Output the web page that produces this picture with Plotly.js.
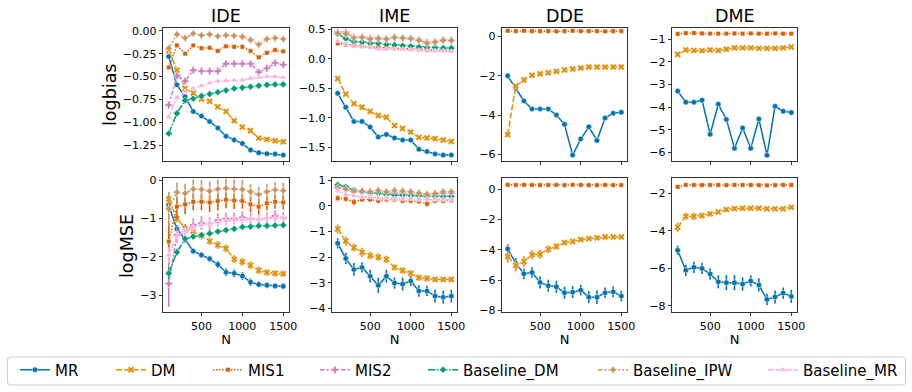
<!DOCTYPE html>
<html><head><meta charset="utf-8">
<script src="https://cdn.plot.ly/plotly-3.0.1.min.js"></script>
<style>html,body{margin:0;padding:0;background:#fff}#chart{width:912px;height:392px}</style>
</head><body><div id="chart"></div><script>
// ---------- data ----------
const N = [100,200,300,400,500,600,700,800,900,1000,1100,1200,1300,1400,1500];
const methods = ['MR','DM','MIS1','MIS2','Baseline_DM','Baseline_IPW','Baseline_MR'];
const panelTitles = ['IDE','IME','DDE','DME'];
const rowLabels = ['logbias','logMSE'];
const xTicks = [500,1000,1500];

// logbias
const IDE_bias_MR   = [-0.28,-0.59,-0.72,-0.88,-0.93,-0.99,-1.06,-1.15,-1.19,-1.23,-1.30,-1.33,-1.34,-1.345,-1.355];
const IDE_bias_DM   = [-0.22,-0.43,-0.63,-0.68,-0.745,-0.77,-0.83,-0.88,-0.98,-1.05,-1.09,-1.17,-1.185,-1.20,-1.21];
const IDE_bias_MIS1 = [-0.40,-0.16,-0.25,-0.16,-0.19,-0.185,-0.22,-0.17,-0.175,-0.175,-0.22,-0.29,-0.24,-0.21,-0.225];
const IDE_bias_MIS2 = [-0.81,-0.49,-0.55,-0.43,-0.44,-0.44,-0.44,-0.36,-0.36,-0.36,-0.36,-0.45,-0.41,-0.35,-0.37];
const IDE_bias_BDM  = [-1.12,-0.90,-0.76,-0.74,-0.71,-0.69,-0.67,-0.65,-0.63,-0.62,-0.61,-0.60,-0.59,-0.585,-0.585];
const IDE_bias_BIPW = [-0.19,-0.04,-0.08,-0.03,-0.05,-0.04,-0.06,-0.05,-0.055,-0.065,-0.10,-0.15,-0.09,-0.08,-0.09];
const IDE_bias_BMR  = [-0.94,-0.73,-0.665,-0.63,-0.60,-0.57,-0.55,-0.545,-0.54,-0.54,-0.52,-0.51,-0.50,-0.50,-0.51];

const IME_bias_MR   = [-0.585,-0.82,-1.06,-1.06,-1.155,-1.325,-1.28,-1.34,-1.375,-1.375,-1.53,-1.57,-1.61,-1.63,-1.63];
const IME_bias_DM   = [-0.336,-0.60,-0.76,-0.82,-0.89,-0.96,-0.99,-1.13,-1.18,-1.24,-1.33,-1.34,-1.35,-1.375,-1.40];
const IME_bias_MIS1 = [0.26,0.24,0.22,0.21,0.20,0.19,0.18,0.18,0.17,0.17,0.16,0.15,0.15,0.15,0.14];
const IME_bias_MIS2 = [0.45,0.45,0.37,0.37,0.35,0.35,0.34,0.36,0.35,0.34,0.32,0.28,0.29,0.32,0.31];
const IME_bias_BDM  = [0.42,0.34,0.29,0.28,0.26,0.26,0.24,0.23,0.22,0.21,0.20,0.19,0.19,0.18,0.18];
const IME_bias_BIPW = [0.43,0.42,0.35,0.36,0.33,0.34,0.33,0.36,0.35,0.34,0.31,0.26,0.28,0.31,0.31];
const IME_bias_BMR  = [0.30,0.25,0.21,0.20,0.19,0.16,0.16,0.16,0.16,0.15,0.14,0.13,0.13,0.13,0.12];

const DDE_bias_MR   = [-2.0,-2.62,-3.28,-3.69,-3.69,-3.69,-4.0,-4.47,-6.04,-5.22,-4.6,-5.29,-4.15,-3.9,-3.86];
const DDE_bias_DM   = [-5.0,-2.52,-2.21,-1.97,-1.9,-1.84,-1.77,-1.7,-1.65,-1.6,-1.55,-1.55,-1.55,-1.55,-1.55];
const DDE_bias_MIS1 = [0.30,0.28,0.30,0.28,0.28,0.28,0.27,0.28,0.30,0.28,0.28,0.28,0.27,0.28,0.28];

const DME_bias_MR   = [-3.29,-3.78,-3.78,-3.69,-5.2,-3.87,-4.54,-5.82,-4.92,-5.82,-4.52,-6.13,-3.96,-4.18,-4.24];
const DME_bias_DM   = [-1.67,-1.47,-1.49,-1.5,-1.47,-1.49,-1.44,-1.38,-1.38,-1.38,-1.40,-1.40,-1.40,-1.38,-1.34];
const DME_bias_MIS1 = [-0.76,-0.73,-0.72,-0.74,-0.75,-0.75,-0.75,-0.74,-0.75,-0.74,-0.75,-0.75,-0.74,-0.75,-0.75];

// logMSE (value and error-bar half length)
const IDE_mse_MR   = [-0.65,-1.27,-1.55,-1.85,-1.95,-2.05,-2.2,-2.4,-2.43,-2.5,-2.66,-2.72,-2.74,-2.76,-2.77];
const IDE_mse_DM   = [-0.49,-1.0,-1.26,-1.33,-1.45,-1.59,-1.69,-1.78,-2.06,-2.13,-2.22,-2.35,-2.41,-2.43,-2.44];
const IDE_mse_MIS1 = [-1.6,-0.69,-0.63,-0.56,-0.56,-0.58,-0.54,-0.51,-0.53,-0.54,-0.63,-0.69,-0.6,-0.56,-0.58];
const IDE_mse_MIS2 = [-2.7,-1.43,-1.34,-1.17,-1.12,-1.15,-1.04,-1.0,-1.0,-0.97,-1.0,-1.04,-1.0,-0.93,-0.98];
const IDE_mse_BDM  = [-2.43,-1.88,-1.53,-1.47,-1.43,-1.39,-1.34,-1.3,-1.27,-1.22,-1.21,-1.19,-1.19,-1.18,-1.17];
const IDE_mse_BIPW = [-0.75,-0.31,-0.34,-0.23,-0.24,-0.28,-0.23,-0.21,-0.23,-0.24,-0.3,-0.37,-0.3,-0.25,-0.27];
const IDE_mse_BMR  = [-1.95,-1.47,-1.34,-1.24,-1.17,-1.12,-1.1,-1.06,-1.04,-1.04,-1.01,-1.01,-0.99,-0.99,-0.99];
const IDE_err_MR   = [0.1,0.1,0.08,0.08,0.08,0.08,0.1,0.1,0.1,0.1,0.1,0.08,0.08,0.08,0.08];
const IDE_err_DM   = [0.1,0.1,0.1,0.1,0.1,0.1,0.1,0.1,0.1,0.1,0.1,0.1,0.08,0.08,0.08];
const IDE_err_MIS1 = [0.5,0.3,0.25,0.22,0.22,0.25,0.25,0.22,0.22,0.2,0.2,0.2,0.18,0.18,0.18];
const IDE_err_MIS2 = [0.6,0.2,0.2,0.18,0.18,0.18,0.18,0.15,0.15,0.15,0.15,0.15,0.15,0.15,0.15];
const IDE_err_BDM  = [0.15,0.1,0.08,0.06,0.06,0.06,0.05,0.05,0.05,0.05,0.05,0.05,0.05,0.05,0.05];
const IDE_err_BIPW = [0.45,0.25,0.25,0.25,0.25,0.25,0.25,0.25,0.25,0.25,0.2,0.2,0.2,0.2,0.2];
const IDE_err_BMR  = [0.2,0.15,0.12,0.12,0.12,0.12,0.12,0.12,0.1,0.1,0.1,0.1,0.1,0.1,0.1];

const IME_mse_MR   = [-1.46,-2.05,-2.48,-2.4,-2.74,-3.1,-2.74,-3.01,-3.05,-2.93,-3.32,-3.32,-3.52,-3.56,-3.52];
const IME_mse_DM   = [-0.9,-1.37,-1.63,-1.81,-1.94,-2.0,-2.09,-2.4,-2.52,-2.63,-2.8,-2.83,-2.87,-2.87,-2.87];
const IME_mse_MIS1 = [0.3,0.28,0.15,0.25,0.25,0.2,0.25,0.25,0.2,0.2,0.18,0.08,0.2,0.2,0.22];
const IME_mse_MIS2 = [0.75,0.7,0.55,0.55,0.55,0.5,0.5,0.5,0.5,0.45,0.45,0.4,0.45,0.5,0.5];
const IME_mse_BDM  = [0.82,0.75,0.62,0.55,0.5,0.5,0.45,0.42,0.42,0.4,0.4,0.38,0.38,0.37,0.37];
const IME_mse_BIPW = [0.7,0.65,0.55,0.58,0.55,0.6,0.55,0.6,0.58,0.55,0.5,0.45,0.48,0.55,0.55];
const IME_mse_BMR  = [0.6,0.45,0.4,0.35,0.35,0.3,0.3,0.28,0.28,0.28,0.25,0.25,0.25,0.25,0.25];
const IME_err_MR   = [0.2,0.22,0.25,0.2,0.25,0.3,0.25,0.22,0.25,0.2,0.22,0.2,0.25,0.25,0.25];
const IME_err_DM   = [0.18,0.18,0.15,0.18,0.15,0.15,0.15,0.12,0.12,0.12,0.12,0.12,0.1,0.1,0.1];
const IME_err_MIS1 = [0.12,0.12,0.12,0.1,0.1,0.1,0.1,0.1,0.1,0.1,0.1,0.1,0.1,0.1,0.1];
const IME_err_MIS2 = [0.15,0.15,0.12,0.12,0.12,0.12,0.12,0.12,0.12,0.12,0.12,0.12,0.12,0.12,0.12];
const IME_err_BDM  = [0.06,0.06,0.05,0.05,0.05,0.05,0.05,0.05,0.05,0.05,0.05,0.05,0.05,0.05,0.05];
const IME_err_BIPW = [0.18,0.18,0.15,0.15,0.15,0.15,0.15,0.15,0.15,0.15,0.15,0.15,0.15,0.15,0.15];
const IME_err_BMR  = [0.12,0.12,0.1,0.1,0.1,0.1,0.1,0.1,0.1,0.1,0.1,0.1,0.1,0.1,0.1];

const DDE_mse_MR   = [-3.95,-4.89,-5.59,-5.5,-6.16,-6.38,-6.45,-6.84,-6.8,-6.67,-7.13,-7.13,-6.84,-6.78,-7.06];
const DDE_mse_DM   = [-4.45,-5.04,-4.78,-4.34,-4.3,-3.97,-3.79,-3.53,-3.46,-3.33,-3.27,-3.22,-3.16,-3.16,-3.16];
const DDE_mse_MIS1 = [0.28,0.27,0.28,0.27,0.26,0.27,0.27,0.26,0.28,0.27,0.26,0.26,0.27,0.26,0.26];
const DDE_err_MR   = [0.3,0.35,0.35,0.35,0.4,0.4,0.4,0.4,0.4,0.35,0.4,0.45,0.35,0.35,0.35];
const DDE_err_DM   = [0.4,0.4,0.35,0.3,0.3,0.25,0.2,0.15,0.15,0.1,0.1,0.1,0.1,0.1,0.1];
const DDE_err_MIS1 = [0.03,0.03,0.03,0.03,0.03,0.03,0.03,0.03,0.03,0.03,0.03,0.03,0.03,0.03,0.03];

const DME_mse_MR   = [-5.04,-6.1,-5.94,-6.0,-6.3,-6.71,-6.76,-6.76,-6.83,-6.67,-6.88,-7.65,-7.52,-7.31,-7.49];
const DME_mse_DM   = [-3.81,-3.23,-3.24,-3.19,-3.1,-3.0,-2.87,-2.82,-2.8,-2.8,-2.8,-2.83,-2.83,-2.83,-2.75];
const DME_mse_MIS1 = [-1.66,-1.56,-1.56,-1.57,-1.56,-1.56,-1.57,-1.56,-1.56,-1.56,-1.57,-1.58,-1.57,-1.56,-1.56];
const DME_err_MR   = [0.25,0.3,0.3,0.3,0.3,0.35,0.4,0.4,0.35,0.3,0.35,0.3,0.35,0.3,0.35];
const DME_err_DM   = [0.25,0.2,0.2,0.15,0.12,0.1,0.1,0.1,0.1,0.1,0.1,0.1,0.1,0.1,0.08];
const DME_err_MIS1 = [0.05,0.04,0.04,0.04,0.04,0.04,0.04,0.04,0.04,0.04,0.04,0.04,0.04,0.04,0.04];

// ---------- style ----------
const colors  = ['#0173b2','#de8f05','#d55e00','#cc78bc','#029e73','#ca9161','#fbafe4'];
const dashes  = ['solid','6px,2.25px','1.5px,1.5px','4.5px,1.9px,2.25px,1.9px','7.5px,1.5px,1.5px,1.5px',
                 '4.5px,1.9px,1.9px,1.9px,1.9px,1.9px','6px,1.5px,6px,1.5px,1.5px,1.5px'];
const symbols = ['circle','x','square','cross','diamond','star-diamond','triangle-up'];
const msizes  = [5.5,6,4.5,6,5.5,6.5,6];

const panels = [
  [IDE_bias_MR,IDE_bias_DM,IDE_bias_MIS1,IDE_bias_MIS2,IDE_bias_BDM,IDE_bias_BIPW,IDE_bias_BMR],
  [IME_bias_MR,IME_bias_DM,IME_bias_MIS1,IME_bias_MIS2,IME_bias_BDM,IME_bias_BIPW,IME_bias_BMR],
  [DDE_bias_MR,DDE_bias_DM,DDE_bias_MIS1],
  [DME_bias_MR,DME_bias_DM,DME_bias_MIS1],
  [IDE_mse_MR,IDE_mse_DM,IDE_mse_MIS1,IDE_mse_MIS2,IDE_mse_BDM,IDE_mse_BIPW,IDE_mse_BMR],
  [IME_mse_MR,IME_mse_DM,IME_mse_MIS1,IME_mse_MIS2,IME_mse_BDM,IME_mse_BIPW,IME_mse_BMR],
  [DDE_mse_MR,DDE_mse_DM,DDE_mse_MIS1],
  [DME_mse_MR,DME_mse_DM,DME_mse_MIS1]
];
const panelErrs = [null,null,null,null,
  [IDE_err_MR,IDE_err_DM,IDE_err_MIS1,IDE_err_MIS2,IDE_err_BDM,IDE_err_BIPW,IDE_err_BMR],
  [IME_err_MR,IME_err_DM,IME_err_MIS1,IME_err_MIS2,IME_err_BDM,IME_err_BIPW,IME_err_BMR],
  [DDE_err_MR,DDE_err_DM,DDE_err_MIS1],
  [DME_err_MR,DME_err_DM,DME_err_MIS1]
];

const W = 912, H = 392;
const colPx = [[163,289],[332,457],[502,627],[672,797]];
const rowPx = [[28,161],[178,312]];
const yRanges = [[-1.42,0.03],[-1.73,0.52],[-6.34,0.44],[-6.38,-0.5],
                 [-3.44,0.06],[-4.14,1.09],[-8.11,0.73],[-8.32,-1.19]];
const yDticks = [0.25,0.5,2,1,1,1,2,2];
const yFormats = ['.2f','.1f','d','d','d','d','d','d'];
const legendTextPx = [55,151,248,355,463,633,803];
const FONT = 'DejaVu Sans, Arial, sans-serif';

const traces = [];
panels.forEach((series, p) => {
  const ax = p + 1;
  series.forEach((y, m) => {
    const t = {
      type:'scatter', mode:'lines+markers', x:N, y:y, name:methods[m],
      xaxis:'x'+(ax===1?'':ax), yaxis:'y'+(ax===1?'':ax),
      line:{color:colors[m], width:1.5, dash:dashes[m]},
      marker:{symbol:symbols[m], size:msizes[m], color:colors[m], line:{color:'white', width:0.5}},
      legendgroup:methods[m], showlegend: p===0,
      legend: m===0 ? 'legend' : 'legend'+(m+1)
    };
    if (panelErrs[p]) {
      t.error_y = {type:'data', array:panelErrs[p][m], visible:true, color:colors[m], thickness:1.6, width:0};
    }
    traces.push(t);
  });
});

const layout = {
  width:W, height:H, margin:{l:0,r:0,t:0,b:0},
  paper_bgcolor:'white', plot_bgcolor:'white',
  font:{family:FONT, color:'#000', size:11},
  annotations:[], shapes:[]
};
for (let p = 0; p < 8; p++) {
  const col = p % 4, row = p < 4 ? 0 : 1, ax = p + 1;
  const xk = 'xaxis'+(ax===1?'':ax), yk = 'yaxis'+(ax===1?'':ax);
  layout[xk] = {
    domain:[colPx[col][0]/W, colPx[col][1]/W], anchor:'y'+(ax===1?'':ax),
    range:[30,1570], tickvals:xTicks, ticktext: row===0 ? ['','',''] : xTicks.map(String),
    ticks:'outside', ticklen:3.5, tickwidth:0.8, tickcolor:'#000',
    showline:true, mirror:true, linecolor:'#000', linewidth:0.8,
    showgrid:false, zeroline:false, tickfont:{size:11, family:FONT},
    title: row===1 ? {text:'N', font:{size:13, family:FONT}, standoff:1} : {text:''}
  };
  layout[yk] = {
    domain:[1-rowPx[row][1]/H, 1-rowPx[row][0]/H], anchor:'x'+(ax===1?'':ax),
    range:yRanges[p], dtick:yDticks[p], tick0:0, tickformat:yFormats[p],
    ticks:'outside', ticklen:3.5, tickwidth:0.8, tickcolor:'#000',
    showline:true, mirror:true, linecolor:'#000', linewidth:0.8,
    showgrid:false, zeroline:false, tickfont:{size:11, family:FONT}
  };
}
panelTitles.forEach((t, c) => {
  layout.annotations.push({text:t, xref:'paper', yref:'paper',
    x:(colPx[c][0]+colPx[c][1])/2/W, y:1-16/H, xanchor:'center', yanchor:'middle',
    showarrow:false, font:{size:17.5, family:FONT, color:'#000'}});
});
layout.annotations.push({text:rowLabels[0], xref:'paper', yref:'paper', x:110/W, y:1-95/H,
  xanchor:'center', yanchor:'middle', textangle:-90, showarrow:false, font:{size:17.5, family:FONT, color:'#000'}});
layout.annotations.push({text:rowLabels[1], xref:'paper', yref:'paper', x:127/W, y:1-246/H,
  xanchor:'center', yanchor:'middle', textangle:-90, showarrow:false, font:{size:17.5, family:FONT, color:'#000'}});

// legends
methods.forEach((m, i) => {
  const key = i===0 ? 'legend' : 'legend'+(i+1);
  layout[key] = {x:(legendTextPx[i]-40)/W, xanchor:'left', y:1-370/H, yanchor:'middle',
    orientation:'h', bgcolor:'rgba(0,0,0,0)', borderwidth:0,
    font:{size:15, family:FONT, color:'#000'}};
});
// legend frame (rounded)
(function(){
  const x0=7.5/W, x1=905.5/W, y0=1-385/H, y1=1-357/H, rx=3/W, ry=3/H;
  const path = `M ${x0+rx},${y1} L ${x1-rx},${y1} Q ${x1},${y1} ${x1},${y1-ry} L ${x1},${y0+ry} Q ${x1},${y0} ${x1-rx},${y0} `+
               `L ${x0+rx},${y0} Q ${x0},${y0} ${x0},${y0+ry} L ${x0},${y1-ry} Q ${x0},${y1} ${x0+rx},${y1} Z`;
  layout.shapes.push({type:'path', xref:'paper', yref:'paper', path:path, line:{color:'#cccccc', width:1}, fillcolor:'rgba(0,0,0,0)'});
})();

Plotly.newPlot('chart', traces, layout, {displayModeBar:false, staticPlot:true});
</script></body></html>
